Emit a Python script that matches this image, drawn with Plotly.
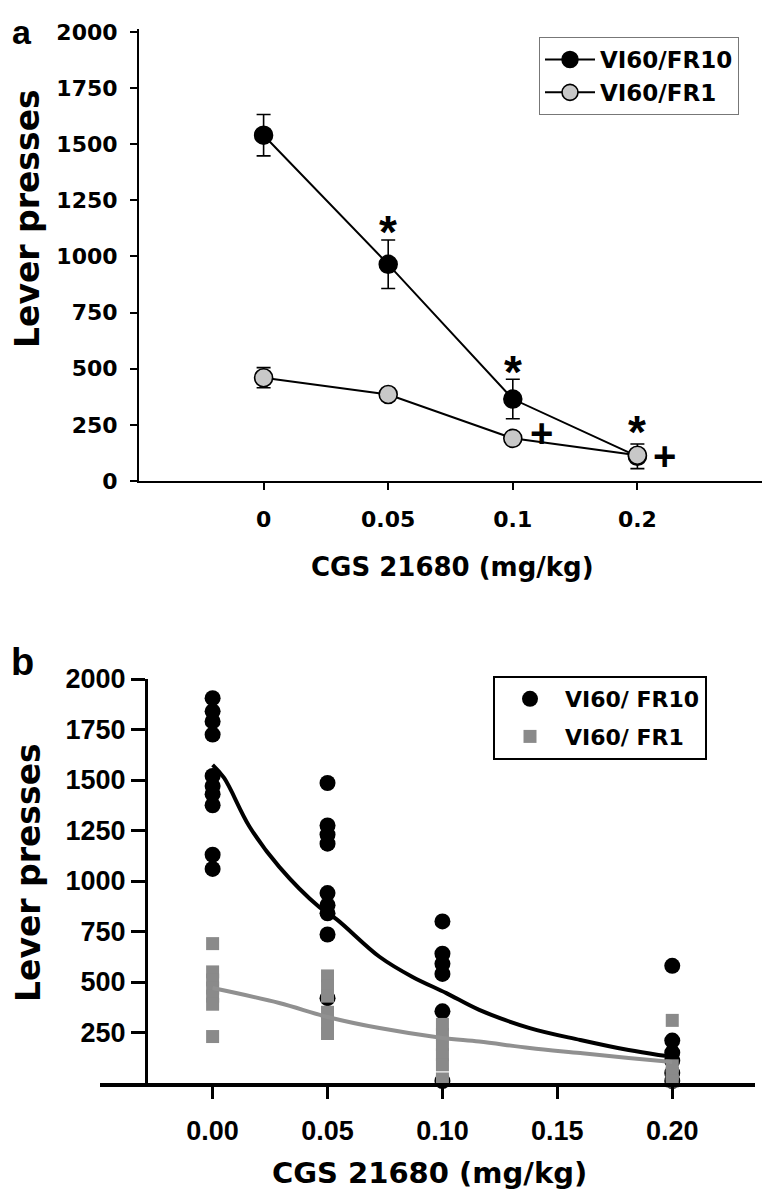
import plotly.graph_objects as go

# ---------------- data: panel a (means +/- SEM) ----------------
a_doses = ["0", "0.05", "0.1", "0.2"]
a_fr10_mean = [1540, 965, 365, 110]
a_fr10_sem = [92, 108, 88, 55]
a_fr1_mean = [460, 385, 190, 115]
a_fr1_sem = [45, 18, 18, 15]

# ---------------- data: panel b (individual animals + fitted curves) ----------------
b_doses = [0.0, 0.05, 0.10, 0.20]
b_fr10_points = [
    [1905, 1840, 1790, 1725, 1520, 1470, 1430, 1375, 1130, 1060],
    [1485, 1275, 1230, 1185, 940, 880, 840, 735, 420],
    [800, 640, 590, 540, 355, 10],
    [580, 210, 150, 110, 50, 10],
]
b_fr1_points = [
    [690, 550, 510, 470, 430, 390, 230],
    [530, 480, 430, 350, 295, 245],
    [290, 240, 190, 140, 90, 20],
    [310, 85, 45, 10],
]
fit_fr10_x = [0.0, 0.005, 0.016, 0.029, 0.0465, 0.054, 0.0726, 0.087, 0.1017, 0.116, 0.138, 0.16, 0.181, 0.194, 0.20]
fit_fr10_y = [1575, 1510, 1270, 1070, 870, 810, 625, 525, 445, 362, 272, 213, 163, 139, 130]
fit_fr1_x = [0.0, 0.029, 0.05, 0.0726, 0.10, 0.116, 0.138, 0.16, 0.181, 0.20]
fit_fr1_y = [470, 396, 327, 272, 223, 205, 173, 148, 124, 104]

y_ticks_a = [0, 250, 500, 750, 1000, 1250, 1500, 1750, 2000]
y_ticks_b = [250, 500, 750, 1000, 1250, 1500, 1750, 2000]
x_ticks_b = [0.0, 0.05, 0.10, 0.15, 0.20]
x_ticklabels_b = ["0.00", "0.05", "0.10", "0.15", "0.20"]

# ---------------- geometry helpers (page has an 8px body margin) ----------------
OFF = 8
W, H = 770 - 2 * OFF, 1200 - 2 * OFF
ML, MR = 100 - OFF, 0
PW = W - ML - MR


def fx(px):
    return (px - OFF - ML) / PW


def fy(py):
    return 1 - (py - OFF) / H


FA = "DejaVu Sans"
FB = "Liberation Sans"

fig = go.Figure()

# ---- panel a ----
fig.add_trace(go.Scatter(
    x=a_doses, y=a_fr10_mean, mode="lines+markers", name="VI60/FR10",
    error_y=dict(type="data", array=a_fr10_sem, visible=True, color="black", thickness=1.6, width=7),
    line=dict(color="black", width=2),
    marker=dict(symbol="circle", size=18, color="black", line=dict(color="black", width=1.5)),
    xaxis="x", yaxis="y", legend="legend", cliponaxis=False,
))
fig.add_trace(go.Scatter(
    x=a_doses, y=a_fr1_mean, mode="lines+markers", name="VI60/FR1",
    error_y=dict(type="data", array=a_fr1_sem, visible=True, color="black", thickness=1.6, width=7),
    line=dict(color="black", width=2),
    marker=dict(symbol="circle", size=18, color="#c8c8c8", line=dict(color="black", width=1.6)),
    xaxis="x", yaxis="y", legend="legend", cliponaxis=False,
))

# ---- panel b ----
fr10_x, fr10_y, fr1_x, fr1_y = [], [], [], []
for d, pts in zip(b_doses, b_fr10_points):
    fr10_x += [d] * len(pts)
    fr10_y += pts
for d, pts in zip(b_doses, b_fr1_points):
    fr1_x += [d] * len(pts)
    fr1_y += pts

fig.add_trace(go.Scatter(
    x=fr10_x, y=fr10_y, mode="markers", name="VI60/ FR10",
    marker=dict(symbol="circle", size=16, color="black"),
    xaxis="x2", yaxis="y2", legend="legend2", legendgroup="g1", cliponaxis=False,
))
fig.add_trace(go.Scatter(
    x=fit_fr10_x, y=fit_fr10_y, mode="lines", line=dict(color="black", width=4, shape="spline"),
    showlegend=False, xaxis="x2", yaxis="y2", hoverinfo="skip",
))
fig.add_trace(go.Scatter(
    x=fr1_x, y=fr1_y, mode="markers", name="VI60/ FR1",
    marker=dict(symbol="square", size=13, color="#8a8a8a"),
    xaxis="x2", yaxis="y2", legend="legend2", legendgroup="g2", cliponaxis=False,
))
fig.add_trace(go.Scatter(
    x=fit_fr1_x, y=fit_fr1_y, mode="lines", line=dict(color="#909090", width=4, shape="spline"),
    showlegend=False, xaxis="x2", yaxis="y2", hoverinfo="skip",
))

bold = "bold"
fig.update_layout(
    width=W, height=H,
    margin=dict(l=ML, r=MR, t=0, b=0, autoexpand=False),
    paper_bgcolor="white", plot_bgcolor="white",
    font=dict(family=FA, color="black"),
    xaxis=dict(
        domain=[fx(139), 1], type="category", range=[-1, 4], anchor="y",
        showline=True, linecolor="black", linewidth=2, showgrid=False, zeroline=False,
        ticks="outside", ticklen=7, tickwidth=2, tickcolor="black",
        tickfont=dict(family=FA, size=22, weight=bold, color="black"),
        ticklabelstandoff=11,
    ),
    yaxis=dict(
        domain=[fy(481), fy(29)], range=[0, 2013], anchor="x",
        tickvals=y_ticks_a,
        showline=True, linecolor="black", linewidth=2, showgrid=False, zeroline=False,
        ticks="outside", ticklen=7, tickwidth=2, tickcolor="black",
        tickfont=dict(family=FA, size=22, weight=bold, color="black"),
        ticklabelstandoff=8,
    ),
    xaxis2=dict(
        domain=[0, fx(755)], range=[-0.049, 0.236], anchor="y2",
        tickvals=x_ticks_b, ticktext=x_ticklabels_b,
        showline=True, linecolor="black", linewidth=4, showgrid=False, zeroline=False,
        ticks="outside", ticklen=12, tickwidth=3, tickcolor="black",
        tickfont=dict(family=FB, size=27, weight=bold, color="black"),
        ticklabelstandoff=9,
    ),
    yaxis2=dict(
        domain=[fy(1083), fy(679)], range=[0, 2000], anchor="free", position=fx(146),
        tickvals=y_ticks_b,
        showline=True, linecolor="black", linewidth=3, showgrid=False, zeroline=False,
        ticks="outside", ticklen=14, tickwidth=3, tickcolor="black",
        tickfont=dict(family=FB, size=27, weight=bold, color="black"),
        ticklabelstandoff=0,
    ),
    legend=dict(
        x=fx(539), y=fy(37), xanchor="left", yanchor="top",
        bgcolor="white", bordercolor="#777777", borderwidth=1,
        font=dict(family=FA, size=23, weight=bold, color="black"),
        itemwidth=50, tracegroupgap=0,
    ),
    legend2=dict(
        x=fx(493), y=fy(676), xanchor="left", yanchor="top",
        bgcolor="white", bordercolor="black", borderwidth=2,
        font=dict(family=FA, size=22, weight=bold, color="black"),
        itemwidth=60, tracegroupgap=6,
    ),
    showlegend=True,
)

C = dict(xanchor="center", yanchor="middle", showarrow=False)
annotations = [
    # panel letters
    dict(text="a", x=fx(22), y=fy(32), xref="paper", yref="paper",
         font=dict(family=FB, size=34, weight=bold), **C),
    dict(text="b", x=fx(22), y=fy(662), xref="paper", yref="paper",
         font=dict(family=FB, size=38, weight=bold), **C),
    # axis titles
    dict(text="CGS 21680 (mg/kg)", x=fx(453), y=fy(567), xref="paper", yref="paper",
         font=dict(family=FA, size=26, weight=bold), **C),
    dict(text="Lever presses", x=fx(28), y=fy(219), xref="paper", yref="paper",
         textangle=-90, font=dict(family=FA, size=33, weight=bold), **C),
    dict(text="CGS 21680 (mg/kg)", x=fx(429), y=fy(1173), xref="paper", yref="paper",
         font=dict(family=FA, size=29, weight=bold), **C),
    dict(text="Lever presses", x=fx(28), y=fy(873), xref="paper", yref="paper",
         textangle=-90, font=dict(family=FA, size=33, weight=bold), **C),
    # significance marks, panel a
    dict(text="*", x=1, y=1109, xref="x", yref="y", font=dict(family=FB, size=46, weight=bold), **C),
    dict(text="*", x=2, y=486, xref="x", yref="y", font=dict(family=FB, size=46, weight=bold), **C),
    dict(text="*", x=3, y=218, xref="x", yref="y", font=dict(family=FB, size=46, weight=bold), **C),
    dict(text="+", x=2.23, y=214, xref="x", yref="y", font=dict(family=FB, size=40, weight=bold), **C),
    dict(text="+", x=3.22, y=111, xref="x", yref="y", font=dict(family=FB, size=40, weight=bold), **C),
]
fig.update_layout(annotations=annotations)

fig.write_html("out.html")
